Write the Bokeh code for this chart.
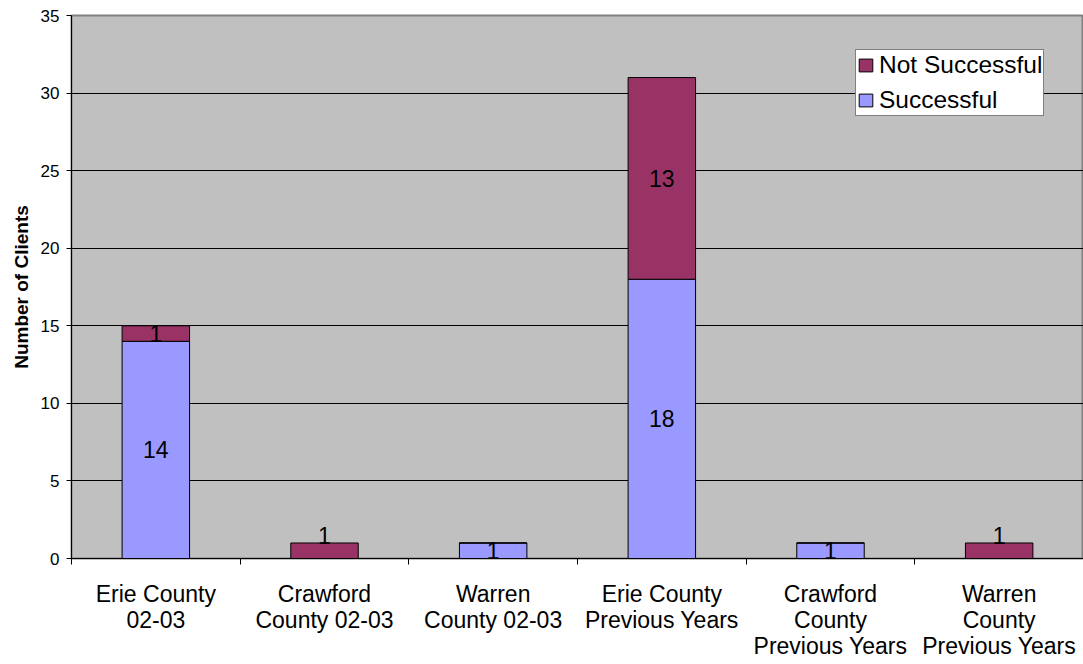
from bokeh.plotting import figure
from bokeh.models import (ColumnDataSource, Range1d, FixedTicker, Legend, LegendItem)
from bokeh.core.properties import value
from bokeh.embed import file_html
from bokeh.resources import INLINE

categories = ["Erie County\n02-03", "Crawford\nCounty 02-03", "Warren\nCounty 02-03",
              "Erie County\nPrevious Years", "Crawford\nCounty\nPrevious Years",
              "Warren\nCounty\nPrevious Years"]
successful = [14, 0, 1, 18, 1, 0]
not_successful = [1, 1, 0, 13, 0, 1]
y_ticks = [0, 5, 10, 15, 20, 25, 30, 35]

FONT = "Liberation Sans"
C_SUCC = "#9999FF"
C_NOT = "#993366"

xs = [i + 0.5 for i in range(len(categories))]
src = ColumnDataSource(dict(x=xs, successful=successful, not_successful=not_successful))

p = figure(width=1083, height=664, output_backend="svg", toolbar_location=None,
           x_range=Range1d(0, len(categories)), y_range=Range1d(0, 35),
           min_border_left=71, min_border_right=0, min_border_top=15, min_border_bottom=106,
           background_fill_color="#C0C0C0", border_fill_color="white")

rs = p.vbar_stack(["successful", "not_successful"], x="x", width=0.4, source=src,
                  color=[C_SUCC, C_NOT], line_color="black", line_width=1)

# data labels (centred in each segment; a lone top segment's label sits a little higher)
lx, ly, lt, loff = [], [], [], []
for i in range(len(categories)):
    s, n = successful[i], not_successful[i]
    if s > 0:
        lx.append(xs[i]); ly.append(s / 2); lt.append(str(s)); loff.append(0)
    if n > 0:
        lx.append(xs[i]); ly.append(s + n / 2); lt.append(str(n))
        loff.append(-15 if s == 0 else 0)
p.text(x="x", y="y", text="t", y_offset="off",
       source=ColumnDataSource(dict(x=lx, y=ly, t=lt, off=loff)),
       text_font=value(FONT), text_font_size="23px",
       text_align="center", text_baseline="middle", text_color="black")

# axes
p.xaxis.ticker = FixedTicker(ticks=xs, minor_ticks=list(range(len(categories) + 1)))
p.xaxis.major_label_overrides = {x: c for x, c in zip(xs, categories)}
p.xaxis.major_tick_out = 0
p.xaxis.major_tick_in = 0
p.xaxis.minor_tick_out = 6
p.xaxis.minor_tick_in = 0
p.xaxis.minor_tick_line_color = "black"
p.xaxis.major_label_text_font = FONT
p.xaxis.major_label_text_font_size = "23px"
p.xaxis.major_label_text_line_height = 1.0
p.xaxis.major_label_text_color = "black"
p.xaxis.major_label_standoff = 16
p.xaxis.axis_line_color = "black"

p.yaxis.ticker = FixedTicker(ticks=y_ticks)
p.yaxis.minor_tick_line_color = None
p.yaxis.major_tick_out = 5
p.yaxis.major_tick_in = 0
p.yaxis.major_tick_line_color = "black"
p.yaxis.major_label_text_font = FONT
p.yaxis.major_label_text_font_size = "17px"
p.yaxis.major_label_text_color = "black"
p.yaxis.major_label_standoff = 7
p.yaxis.axis_label = "Number of Clients"
p.yaxis.axis_label_text_font = FONT
p.yaxis.axis_label_text_font_size = "19px"
p.yaxis.axis_label_text_font_style = "bold"
p.yaxis.axis_label_text_color = "black"
p.yaxis.axis_label_standoff = 6
p.yaxis.axis_line_color = "black"

p.xgrid.grid_line_color = None
p.ygrid.ticker = FixedTicker(ticks=y_ticks[1:-1])
p.ygrid.grid_line_color = "black"
p.ygrid.grid_line_width = 1
p.outline_line_color = "#808080"
p.outline_line_width = 2

legend = Legend(items=[LegendItem(label="Not Successful", renderers=[rs[1]]),
                       LegendItem(label="Successful", renderers=[rs[0]])],
                location=(784, 442))
legend.label_text_font = FONT
legend.label_text_font_size = "24.5px"
legend.label_text_color = "black"
legend.glyph_width = 17
legend.glyph_height = 16
legend.label_standoff = 5
legend.spacing = 7
legend.padding = 1
legend.margin = 0
legend.border_line_color = "black"
legend.border_line_width = 1
legend.background_fill_color = "white"
legend.background_fill_alpha = 1
p.add_layout(legend, "center")

open("out.html", "w").write(file_html(p, INLINE))
